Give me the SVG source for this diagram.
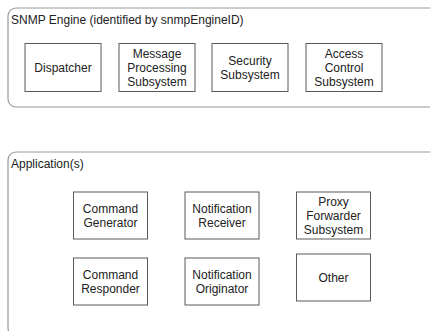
<svg xmlns="http://www.w3.org/2000/svg" width="430" height="331" viewBox="0 0 430 331">
<style>
.frame{fill:#fff;stroke:#9a9a9a;stroke-width:1.2}
.box{fill:#fff;stroke:#5a5a5a;stroke-width:1}
text{font-family:"Liberation Sans",Arial,sans-serif;font-size:12px;fill:#222}
.c{text-anchor:middle}
</style>
<rect width="430" height="331" fill="#fff"/>
<g id="engine">
<rect class="frame" x="8" y="8" width="434" height="99" rx="8"/>
<text x="11" y="24">SNMP Engine (identified by snmpEngineID)</text>
</g>
<g id="dispatcher">
<rect class="box" x="25" y="43.5" width="76" height="48"/>
<text class="c" x="63" y="71.5">Dispatcher</text>
</g>
<g id="mps">
<rect class="box" x="119" y="43.5" width="76" height="48"/>
<text class="c" x="157" y="57.5">Message</text>
<text class="c" x="157" y="71.5">Processing</text>
<text class="c" x="157" y="85.5">Subsystem</text>
</g>
<g id="security">
<rect class="box" x="212" y="43.5" width="76" height="48"/>
<text class="c" x="250" y="64.5">Security</text>
<text class="c" x="250" y="78.5">Subsystem</text>
</g>
<g id="access">
<rect class="box" x="306" y="43.5" width="76" height="48"/>
<text class="c" x="344" y="57.5">Access</text>
<text class="c" x="344" y="71.5">Control</text>
<text class="c" x="344" y="85.5">Subsystem</text>
</g>
<g id="apps">
<rect class="frame" x="8" y="152" width="434" height="184" rx="8"/>
<text x="11" y="168">Application(s)</text>
</g>
<g id="cmdgen">
<rect class="box" x="73.5" y="192" width="74" height="47"/>
<text class="c" x="110.5" y="213">Command</text>
<text class="c" x="110.5" y="227">Generator</text>
</g>
<g id="notifrcv">
<rect class="box" x="185" y="192" width="74" height="47"/>
<text class="c" x="222" y="213">Notification</text>
<text class="c" x="222" y="227">Receiver</text>
</g>
<g id="proxy">
<rect class="box" x="296.5" y="192" width="74" height="47"/>
<text class="c" x="333.5" y="206">Proxy</text>
<text class="c" x="333.5" y="220">Forwarder</text>
<text class="c" x="333.5" y="234">Subsystem</text>
</g>
<g id="cmdrsp">
<rect class="box" x="73.5" y="258" width="74" height="47"/>
<text class="c" x="110.5" y="279">Command</text>
<text class="c" x="110.5" y="293">Responder</text>
</g>
<g id="notiforig">
<rect class="box" x="185" y="258" width="74" height="47"/>
<text class="c" x="222" y="279">Notification</text>
<text class="c" x="222" y="293">Originator</text>
</g>
<g id="other">
<rect class="box" x="296.5" y="254" width="74" height="47"/>
<text class="c" x="333.5" y="281.5">Other</text>
</g>
<g id="connectors"/>
</svg>
